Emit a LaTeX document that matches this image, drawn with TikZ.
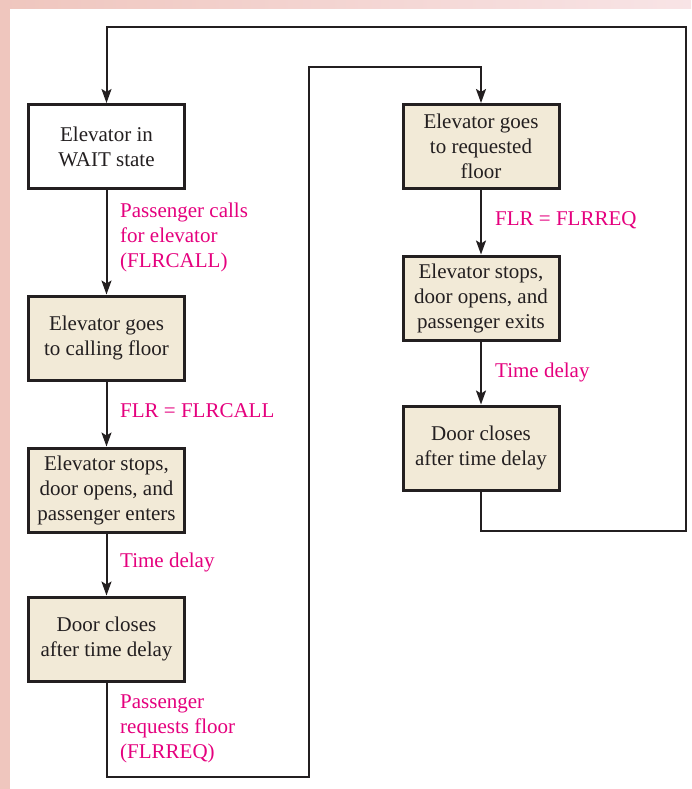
\documentclass[tikz,border=0pt]{standalone}
\usepackage{fontspec}
\setmainfont{Liberation Serif}
\usetikzlibrary{arrows.meta}
\definecolor{boxfill}{HTML}{F2EAD7}
\definecolor{lbl}{HTML}{E5007E}
\definecolor{bandL}{HTML}{EFC6BE}
\definecolor{bandR}{HTML}{F8E4E6}
\definecolor{ink}{HTML}{231F20}
\begin{document}
\begin{tikzpicture}[x=1pt,y=-1pt,
  stbox/.style={draw=ink,line width=3pt,fill=boxfill,minimum width=156pt,minimum height=84pt,
    align=center,font=\fontsize{21}{25}\selectfont,text=ink,inner sep=0pt},
  wbox/.style={stbox,fill=white},
  lab/.style={anchor=west,align=left,text=lbl,font=\fontsize{21}{25}\selectfont,inner sep=0pt},
  conn/.style={draw=ink,line width=2pt},
  arr/.style={conn,-{Stealth[length=14pt,width=10pt,inset=3pt]}}]
\useasboundingbox (0,0) rectangle (691,789);
\fill[white] (0,0) rectangle (691,789);
\fill[left color=bandL,right color=bandR] (0,0) rectangle (691,9);
\fill[bandL] (0,0) rectangle (10,789);

\node[wbox]  (b1) at (106.5,146.5) {Elevator in\\WAIT state};
\node[stbox] (b2) at (106.5,338) {Elevator goes\\to calling floor};
\node[stbox] (b3) at (106.5,490) {Elevator stops,\\door opens, and\\passenger enters};
\node[stbox] (b4) at (106.5,639) {Door closes\\after time delay};
\node[stbox] (b5) at (481,146.5) {Elevator goes\\to requested\\floor};
\node[stbox] (b6) at (481,298) {Elevator stops,\\door opens, and\\passenger exits};
\node[stbox] (b7) at (481,448) {Door closes\\after time delay};

\draw[arr] (b1) -- (b2);
\draw[arr] (b2) -- (b3);
\draw[arr] (b3) -- (b4);
\draw[arr] (b5) -- (b6);
\draw[arr] (b6) -- (b7);

\coordinate (r1) at (686,531);
\coordinate (r2) at (686,27);
\coordinate (l1) at (309,777);
\coordinate (l2) at (309,67);
\draw[arr] (b7.south) |- (r1) -- (r2) -| (b1.north);
\draw[arr] (b4.south) |- (l1) -- (l2) -| (b5.north);

\node[lab] (t1) at (120,237) {Passenger calls\\for elevator\\(FLRCALL)};
\node[lab] (t2) at (120,411) {FLR = FLRCALL};
\node[lab] (t3) at (120,562) {Time delay};
\node[lab] (t4) at (120,729) {Passenger\\requests floor\\(FLRREQ)};
\node[lab] (t5) at (495,220) {FLR = FLRREQ};
\node[lab] (t6) at (495,372) {Time delay};
\end{tikzpicture}
\end{document}
